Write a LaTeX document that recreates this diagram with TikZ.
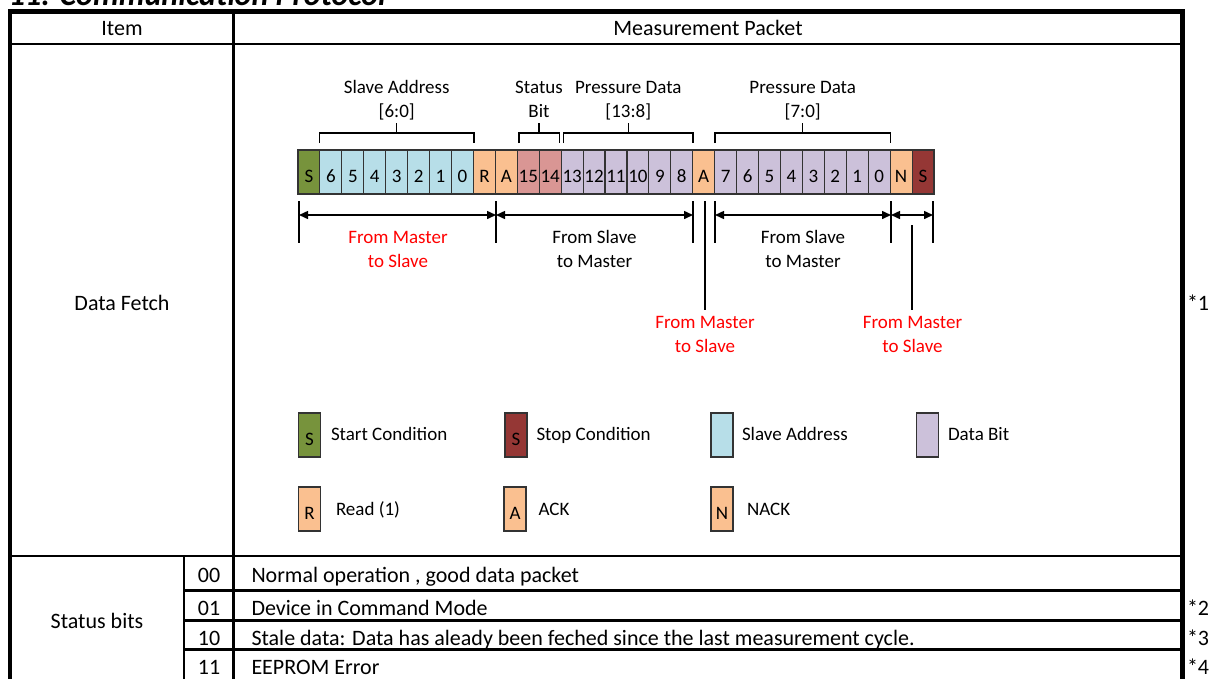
\documentclass[tikz,border=0pt]{standalone}
\usepackage{fontspec}
\setmainfont{Carlito}
\usetikzlibrary{arrows.meta}
\definecolor{cgreen}{HTML}{77933C}
\definecolor{ccyan}{HTML}{B7DEE8}
\definecolor{corange}{HTML}{FAC090}
\definecolor{cpink}{HTML}{D99694}
\definecolor{cviolet}{HTML}{CCC1DA}
\definecolor{cdred}{HTML}{953735}
\definecolor{lblred}{HTML}{FF0000}
\begin{document}
\begin{tikzpicture}[x=1pt,y=-1pt,
  every node/.style={inner sep=0pt, outer sep=0pt},
  txt/.style={font=\fontsize{19}{24}\selectfont},
  ttxt/.style={font=\fontsize{22}{27}\selectfont},
  mtxt/.style={font=\fontsize{19}{24}\selectfont, align=center},
  redtxt/.style={mtxt, text=lblred},
  cell/.style={draw=black!80, line width=1.1pt, minimum width=21.93pt, minimum height=44pt,
    font=\fontsize{19}{24}\selectfont, text height=20pt, text depth=0pt},
  lcell/.style={cell, minimum width=22pt},
  outerline/.style={line width=4.5pt},
  innerline/.style={line width=2.6pt},
  brk/.style={line width=1.5pt},
  tickline/.style={line width=1.5pt},
  dimline/.style={line width=1.5pt, {Triangle[length=9pt,width=8pt]}-{Triangle[length=9pt,width=8pt]}}
]
\useasboundingbox (0,0) rectangle (1214,678);
\clip (0,0) rectangle (1214,678);

% title (cut by the top edge)
\node[anchor=base west, font=\fontsize{32}{38}\selectfont\bfseries\itshape] (title) at (9,5) {11. Communication Protocol};

% table frame
\draw[outerline] (10,700) -- (10,11.5) -- (1182.5,11.5) -- (1182.5,700);
\draw[innerline] (10,44) -- (1182.5,44);
\draw[innerline] (233.7,11.5) -- (233.7,700);
\draw[innerline] (10,556) -- (1182.5,556);
\draw[innerline] (184,556) -- (184,700);
\draw[innerline] (184,590.5) -- (1182.5,590.5);
\draw[innerline] (184,620.3) -- (1182.5,620.3);
\draw[innerline] (184,649.7) -- (1182.5,649.7);

% header
\node[ttxt, anchor=base] (hitem) at (122,35) {Item};
\node[ttxt, anchor=base] (hpkt) at (708,35) {Measurement Packet};
\node[ttxt, anchor=base] (dfetch) at (122,310) {Data Fetch};
\node[ttxt, anchor=base west] (note1) at (1187,310) {*1};

% bit cells
\foreach \t/\col [count=\i from 0] in {S/cgreen,6/ccyan,5/ccyan,4/ccyan,3/ccyan,2/ccyan,1/ccyan,0/ccyan,R/corange,A/corange,15/cpink,14/cpink,13/cviolet,12/cviolet,11/cviolet,10/cviolet,9/cviolet,8/cviolet,A/corange,7/cviolet,6/cviolet,5/cviolet,4/cviolet,3/cviolet,2/cviolet,1/cviolet,0/cviolet,N/corange,S/cdred}
  \node[cell, fill=\col] (c\i) at ({298+(\i+0.5)*21.93},172) {\t};

% brackets
\draw[brk] (319.5,143) -- (319.5,133) -- (474,133) -- (474,143);
\draw[brk] (396.7,133) -- (396.7,123);
\draw[brk] (519,143) -- (519,133) -- (559.5,133) -- (559.5,143);
\draw[brk] (539,133) -- (539,123);
\draw[brk] (563.5,143) -- (563.5,133) -- (693,133) -- (693,143);
\draw[brk] (628.3,133) -- (628.3,123);
\draw[brk] (715,143) -- (715,133) -- (890.5,133) -- (890.5,143);
\draw[brk] (802.7,133) -- (802.7,123);

\node[mtxt] (lsa) at (396.7,100.2) {\strut Slave Address\\\strut{[6:0]}};
\node[mtxt] (lsb) at (539,100.2) {\strut Status\\\strut Bit};
\node[mtxt] (lpa) at (628.3,100.2) {\strut Pressure Data\\\strut{[13:8]}};
\node[mtxt] (lpb) at (802.7,100.2) {\strut Pressure Data\\\strut{[7:0]}};

% dimension ticks
\foreach \n/\x in {1/299,2/496,3/693,4/715,5/891,6/933}{
  \coordinate (tt\n) at (\x,201);
  \coordinate (tb\n) at (\x,243);
  \coordinate (ta\n) at (\x,215);
  \draw[tickline] (tt\n) -- (tb\n);
}
\coordinate (lt1) at (705,201);
\coordinate (lb1) at (705,310);
\coordinate (lt2) at (912,225);
\coordinate (lb2) at (912,310);
\draw[tickline] (lt1) -- (lb1);
\draw[tickline] (lt2) -- (lb2);

\draw[dimline] (ta1) -- (ta2);
\draw[dimline] (ta2) -- (ta3);
\draw[dimline] (ta4) -- (ta5);
\draw[dimline] (ta5) -- (ta6);

\node[redtxt] (dir1) at (398,250.5) {\strut From Master\\\strut to Slave};
\node[mtxt] (dir2) at (594.5,250.5) {\strut From Slave\\\strut to Master};
\node[mtxt] (dir3) at (803,250.5) {\strut From Slave\\\strut to Master};
\node[redtxt] (dir4) at (705,335.5) {\strut From Master\\\strut to Slave};
\node[redtxt] (dir5) at (912.5,335.5) {\strut From Master\\\strut to Slave};

% legend
\node[lcell, fill=cgreen, anchor=north west] (lg1) at (298.5,413) {S};
\node[lcell, fill=cdred, anchor=north west] (lg2) at (505,413) {S};
\node[lcell, fill=ccyan, anchor=north west] (lg3) at (711,413) {};
\node[lcell, fill=cviolet, anchor=north west] (lg4) at (916.5,413) {};
\node[lcell, fill=corange, anchor=north west] (lg5) at (298.5,487) {R};
\node[lcell, fill=corange, anchor=north west] (lg6) at (504,487) {A};
\node[lcell, fill=corange, anchor=north west] (lg7) at (711,487) {N};

\node[txt, anchor=base west] (lx1) at (331,440.5) {Start Condition};
\node[txt, anchor=base west] (lx2) at (536.5,440.5) {Stop Condition};
\node[txt, anchor=base west] (lx3) at (742,440.5) {Slave Address};
\node[txt, anchor=base west] (lx4) at (948,440.5) {Data Bit};
\node[txt, anchor=base west] (lx5) at (336,515.5) {Read (1)};
\node[txt, anchor=base west] (lx6) at (538.5,515.5) {ACK};
\node[txt, anchor=base west] (lx7) at (747,515.5) {NACK};

% status bits
\node[ttxt, anchor=base] (sbits) at (97,628) {Status bits};
\node[ttxt, anchor=base] (s00) at (209,582.5) {00};
\node[ttxt, anchor=base] (s01) at (209,615) {01};
\node[ttxt, anchor=base] (s10) at (209,645) {10};
\node[ttxt, anchor=base] (s11) at (209,674.5) {11};
\node[ttxt, anchor=base west] (d00) at (251.5,582.5) {Normal operation , good data packet};
\node[ttxt, anchor=base west] (d01) at (251.5,615) {Device in Command Mode};
\node[ttxt, anchor=base west] (d10) at (251.5,645) {Stale data: Data has aleady been feched since the last measurement cycle.};
\node[ttxt, anchor=base west] (d11) at (251.5,674.5) {EEPROM Error};
\node[ttxt, anchor=base west] (note2) at (1187,615) {*2};
\node[ttxt, anchor=base west] (note3) at (1187,645) {*3};
\node[ttxt, anchor=base west] (note4) at (1187,674.5) {*4};
\end{tikzpicture}
\end{document}
